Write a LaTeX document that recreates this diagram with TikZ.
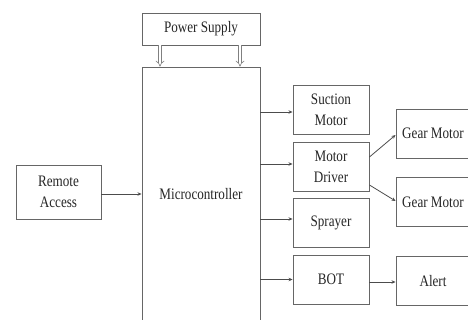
\documentclass[tikz,border=0pt]{standalone}
\usepackage{fontspec}
\setmainfont{Liberation Serif}[FakeStretch=0.82]
\usetikzlibrary{arrows.meta}
\begin{document}
\begin{tikzpicture}[x=1pt,y=-1pt,
  blk/.style={draw=black!60, line width=0.9pt, fill=white, inner sep=0pt, align=center,
    text=black!85, font=\fontsize{16}{21}\selectfont},
  con/.style={draw=black!70, line width=0.8pt, -{Stealth[length=4pt,width=3.5pt]}},
  pwr/.style={draw=black!50, double, double distance=2.5pt, line width=0.6pt, -{Implies}}]
\useasboundingbox (0,0) rectangle (468,320);
% blocks
\node[blk, minimum width=118pt, minimum height=32pt] (ps) at (201,29) {Power Supply};
\node[blk, minimum width=118pt, minimum height=255pt] (mc) at (201,194.5) {Microcontroller};
\node[blk, minimum width=85pt, minimum height=54pt] (ra) at (58.5,192) {Remote\\Access};
\node[blk, minimum width=76pt, minimum height=49pt] (sm) at (331,109.5) {Suction\\Motor};
\node[blk, minimum width=76pt, minimum height=49pt] (md) at (331,166.5) {Motor\\Driver};
\node[blk, minimum width=76pt, minimum height=49pt] (sp) at (331,222.5) {Sprayer};
\node[blk, minimum width=76pt, minimum height=49pt] (bt) at (331,279.5) {BOT};
\node[blk, minimum width=74pt, minimum height=49pt] (g1) at (433,133.5) {Gear Motor};
\node[blk, minimum width=74pt, minimum height=49pt] (g2) at (433,202) {Gear Motor};
\node[blk, minimum width=74pt, minimum height=49pt] (al) at (433,281) {Alert};
% power lines
\draw[pwr] ([xshift=-41pt]ps.south) -- ([xshift=-41pt]mc.north);
\draw[pwr] ([xshift=39pt]ps.south) -- ([xshift=39pt]mc.north);
% signals
\draw[con] ([yshift=-2pt]ra.east) -- ([yshift=-2pt]ra.east -| mc.west);
\draw[con] ([yshift=-2.5pt]sm.west -| mc.east) -- ([yshift=-2.5pt]sm.west);
\draw[con] ([yshift=2.5pt]md.west -| mc.east) -- ([yshift=2.5pt]md.west);
\draw[con] ([yshift=3.5pt]sp.west -| mc.east) -- ([yshift=3.5pt]sp.west);
\draw[con] (bt.west -| mc.east) -- (bt.west);
\draw[con] ([yshift=9.5pt]md.east) -- ([yshift=-1.5pt]g1.west);
\draw[con] ([yshift=-18.5pt]md.east) -- ([yshift=1pt]g2.west);
\draw[con] ([yshift=-2.5pt]bt.east) -- ([yshift=-2.5pt]bt.east -| al.west);
\end{tikzpicture}
\end{document}
